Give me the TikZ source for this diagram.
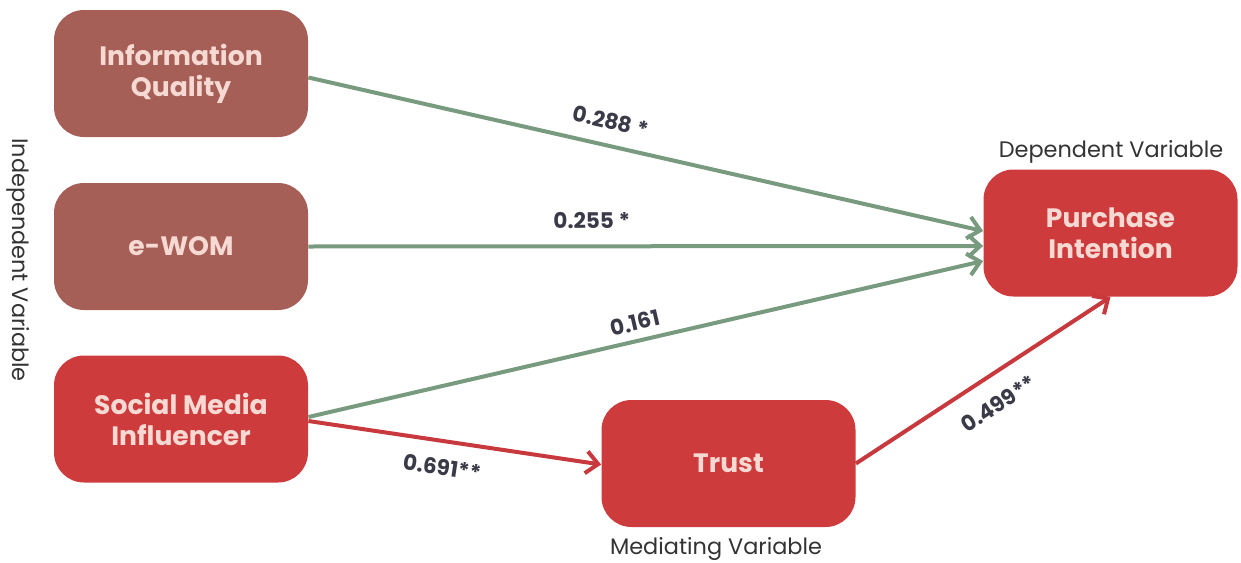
\documentclass[tikz,border=0pt]{standalone}
\usepackage{fontspec}
\setmainfont{Poppins}
\usetikzlibrary{arrows.meta}
\definecolor{brownbox}{HTML}{A65F56}
\definecolor{redbox}{HTML}{CD3B3C}
\definecolor{boxtext}{HTML}{F7D9D3}
\definecolor{greenline}{HTML}{789A7E}
\definecolor{redline}{HTML}{C8393D}
\definecolor{numtext}{HTML}{3A3A48}
\definecolor{captext}{HTML}{333333}
\tikzset{
  varbox/.style={rounded corners=15pt, minimum width=127pt, minimum height=63.5pt, inner sep=0pt,
    align=center, text=boxtext, font=\fontsize{13.3}{15.5}\selectfont\bfseries},
  brownvar/.style={varbox, fill=brownbox},
  redvar/.style={varbox, fill=redbox},
  greenarrow/.style={draw=greenline, line width=2pt, -{Straight Barb[length=6pt,width=11pt,line width=2pt]}},
  redarrow/.style={draw=redline, line width=2pt, -{Straight Barb[length=6pt,width=11pt,line width=2pt]}},
  coef/.style={text=numtext, font=\fontsize{10.8}{12}\selectfont\bfseries, inner sep=0pt},
  caption/.style={text=captext, font=\fontsize{11.2}{13}\selectfont, inner sep=0pt}
}
\begin{document}
\begin{tikzpicture}[x=0.5pt,y=-0.5pt]
\useasboundingbox (0,0) rectangle (1241,562);
\node[brownvar] (iq) at (181,73.5) {Information\\Quality};
\node[brownvar] (ewom) at (181,246.5) {e-WOM};
\node[redvar] (smi) at (181,419) {Social Media\\Influencer};
\node[redvar] (trust) at (728.5,463.5) {Trust};
\node[redvar] (pi) at (1110.5,233) {Purchase\\Intention};
\node[caption] (dep) at (1111,152) {Dependent Variable};
\node[caption] (med) at (716,549) {Mediating Variable};
\node[caption, rotate=-90] (ind) at (18,260) {Independent Variable};
\draw[greenarrow] ([yshift=-2pt]iq.east) -- ([yshift=1pt]pi.west) node[coef, pos=0.44, above=7pt, sloped] (c1) {0.288 *};
\draw[greenarrow] (ewom.east) -- ([yshift=-6.5pt]pi.west) node[coef, pos=0.42, above=8pt] (c2) {0.255 *};
\draw[greenarrow] ([yshift=1pt]smi.east) -- ([yshift=-14pt]pi.west) node[coef, pos=0.49, above=4pt, sloped] (c3) {0.161};
\draw[redarrow] ([yshift=-1pt]smi.east) -- ([yshift=-0.5pt]trust.west) node[coef, pos=0.47, below=8pt, sloped] (c4) {0.691**};
\draw[redarrow] (trust.east) -- (pi.south) node[coef, pos=0.5, below=9pt, sloped] (c5) {0.499**};
\end{tikzpicture}
\end{document}
